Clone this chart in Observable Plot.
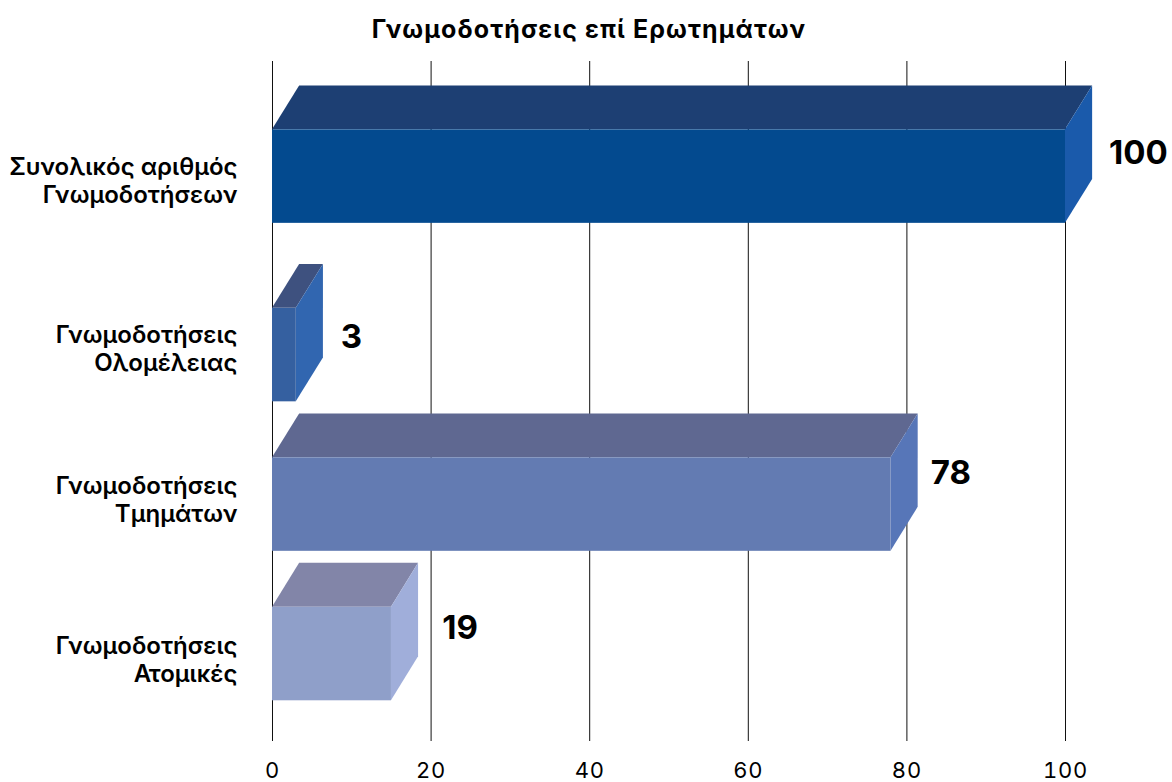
<!DOCTYPE html>
<html lang="el">
<head>
<meta charset="utf-8">
<script src="https://cdn.jsdelivr.net/npm/d3@7"></script>
<script src="https://cdn.jsdelivr.net/npm/@observablehq/plot@0.6"></script>
<style>
  html, body { margin: 0; padding: 0; background: #fff; }
  #title { height: 60px; width: 1178px; text-align: center; font: 700 25px/58px Inter, sans-serif; letter-spacing: 1.1px; color: #000; }
  svg { display: block; }
  g[aria-label="category labels"] text { letter-spacing: 1.45px; }
  g[aria-label="value labels"] text { letter-spacing: 2px; }
  g[aria-label="x-axis tick label"] text { letter-spacing: 0.8px; }
</style>
</head>
<body>
<div id="title"></div>
<div id="chart"></div>
<script>
const chartTitle = "Γνωμοδοτήσεις επί Ερωτημάτων";
const categories = ["Συνολικός αριθμός\nΓνωμοδοτήσεων", "Γνωμοδοτήσεις\nΟλομέλειας", "Γνωμοδοτήσεις\nΤμημάτων", "Γνωμοδοτήσεις\nΑτομικές"];
const valueLabels = [100, 3, 78, 19];
const barLengths = [100, 3, 78, 15];
const xTicks = [0, 20, 40, 60, 80, 100];

const frontColors = ["#034a8f", "#3560a0", "#637bb2", "#8f9fc9"];
const topColors = ["#1d3f73", "#3e517f", "#5f6891", "#8285a8"];
const sideColors = ["#1a5aab", "#3166b0", "#5776b8", "#a0aeda"];

// Layout, in scale units: the rows are unevenly placed in the reference
const rowCenter = [0, 1.194, 2.194, 3.194];
const categoryLabelRow = [0.025, 1.149, 2.159, 3.229];
const valueLabelRow = [-0.157, 1.074, 1.983, 3.02];
const valueLabelX = [105.5, 8.6, 83.0, 21.4];
const halfBar = 0.3127, depthY = 0.294, depthX = 3.42;

document.getElementById("title").textContent = chartTitle;

const rows = categories.map((c, i) => ({
  category: c, value: valueLabels[i], length: barLengths[i], row: rowCenter[i],
  labelRow: categoryLabelRow[i], valueRow: valueLabelRow[i], valueX: valueLabelX[i],
  front: frontColors[i], top: topColors[i], side: sideColors[i]
}));
const topFaces = rows.flatMap(d => [
  {z: d.category, fill: d.top, x1: 0, x2: d.length, y: d.row - halfBar},
  {z: d.category, fill: d.top, x1: depthX, x2: d.length + depthX, y: d.row - halfBar - depthY}
]);
const sideFaces = rows.flatMap(d => [
  {z: d.category, fill: d.side, x: d.length, y1: d.row - halfBar, y2: d.row + halfBar},
  {z: d.category, fill: d.side, x: d.length + depthX, y1: d.row - halfBar - depthY, y2: d.row + halfBar - depthY}
]);

const plot = Plot.plot({
  width: 1172, height: 722,
  marginLeft: 272, marginRight: 107, marginTop: 1, marginBottom: 41,
  style: {background: "#fff", fontFamily: "Inter, sans-serif", color: "#000"},
  x: {domain: [0, 100]},
  y: {domain: [-0.770, 3.779], reverse: true, axis: null},
  color: {type: "identity"},
  marks: [
    Plot.ruleX(xTicks, {stroke: "#111", strokeWidth: 1}),
    Plot.axisX(xTicks, {anchor: "bottom", label: null, tickSize: 0, tickPadding: 21, fontSize: 22, fontWeight: 400, stroke: "none"}),
    Plot.areaX(topFaces, {x1: "x1", x2: "x2", y: "y", z: "z", fill: "fill"}),
    Plot.areaY(sideFaces, {x: "x", y1: "y1", y2: "y2", z: "z", fill: "fill"}),
    Plot.rect(rows, {x1: 0, x2: "length", y1: d => d.row - halfBar, y2: d => d.row + halfBar, fill: "front"}),
    Plot.text(rows, {ariaLabel: "category labels", x: 0, y: "labelRow", text: "category", dx: -35, textAnchor: "end", lineAnchor: "middle", lineHeight: 1.167, fontSize: 24, fontWeight: 600, fill: "#000"}),
    Plot.text(rows, {ariaLabel: "value labels", x: "valueX", y: "valueRow", text: d => String(d.value), textAnchor: "start", lineAnchor: "middle", fontSize: 33, fontWeight: 700, fill: "#000"})
  ]
});
document.getElementById("chart").append(plot);
</script>
</body>
</html>
